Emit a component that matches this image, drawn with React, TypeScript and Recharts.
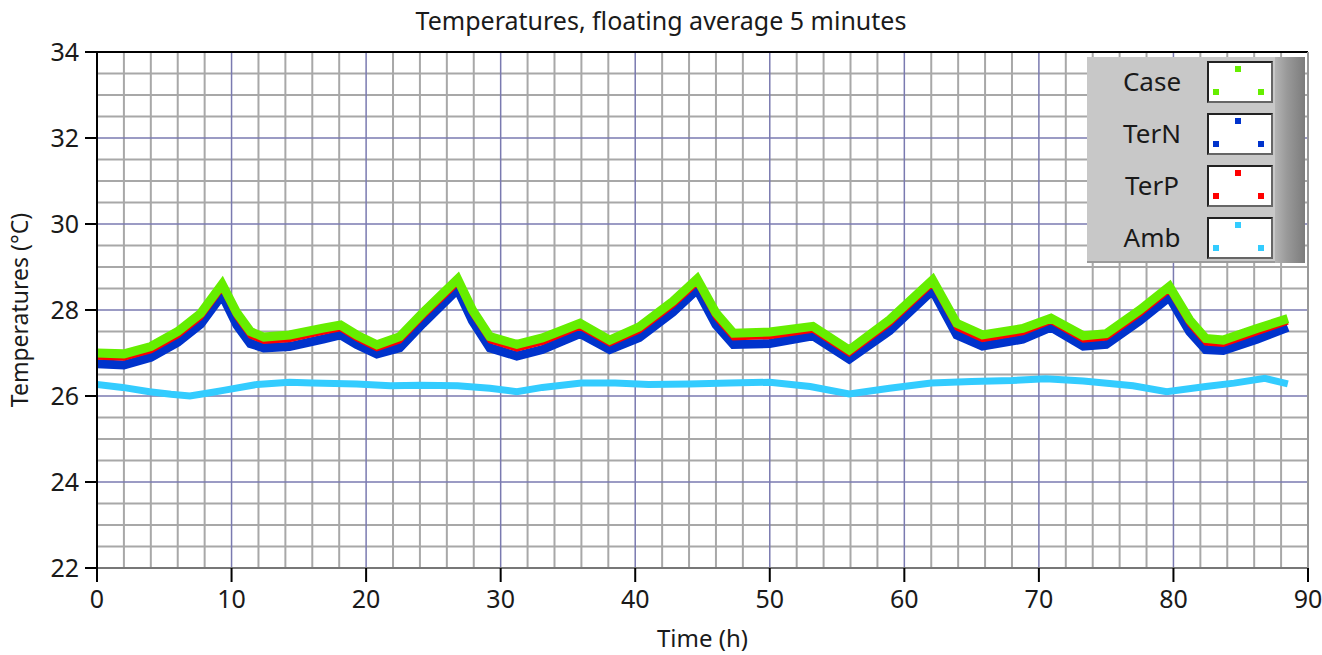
import React from 'react';
import { LineChart, Line, XAxis, YAxis, ReferenceLine, Legend } from 'recharts';

// hours of the key points for the three thermal series
const hours = [
  0, 2, 4, 6, 7.7, 9.3, 10.4, 11.4, 12.4, 14.3, 16.8, 18.1, 19.3, 20.8, 22.5,
  24.2, 26.8, 27.9, 29.2, 31.2, 33.1, 35.9, 38.1, 40.3, 42.8, 44.6, 46.0, 47.3,
  50, 53.2, 55.9, 58.9, 62.1, 63.9, 65.8, 68.8, 70.9, 73.3, 75.0, 77.5, 79.7,
  81.2, 82.4, 83.7, 86.2, 88.5,
];

const caseTemp = [
  27.0, 26.98, 27.15, 27.5, 27.92, 28.6, 27.93, 27.5, 27.37, 27.42, 27.58, 27.65, 27.42, 27.19, 27.38,
  27.93, 28.72, 28.0, 27.38, 27.2, 27.35, 27.69, 27.3, 27.61, 28.2, 28.72, 27.93, 27.46,
  27.49, 27.62, 27.07, 27.77, 28.7, 27.69, 27.42, 27.57, 27.81, 27.4, 27.45, 28.0, 28.55,
  27.77, 27.34, 27.3, 27.57, 27.8,
];

const terP = [
  26.9, 26.88, 27.05, 27.4, 27.82, 28.5, 27.82, 27.39, 27.27, 27.31, 27.48, 27.56, 27.33, 27.1, 27.28,
  27.83, 28.62, 27.9, 27.28, 27.09, 27.24, 27.6, 27.21, 27.51, 28.1, 28.62, 27.82, 27.35,
  27.38, 27.53, 26.98, 27.67, 28.6, 27.58, 27.31, 27.47, 27.73, 27.3, 27.35, 27.9, 28.45,
  27.66, 27.23, 27.2, 27.47, 27.72,
];

const terN = [
  26.75, 26.72, 26.9, 27.25, 27.67, 28.35, 27.65, 27.22, 27.12, 27.15, 27.32, 27.42, 27.2, 26.98, 27.12,
  27.68, 28.48, 27.75, 27.12, 26.93, 27.08, 27.45, 27.08, 27.36, 27.95, 28.48, 27.66, 27.2,
  27.22, 27.4, 26.86, 27.52, 28.46, 27.42, 27.16, 27.32, 27.6, 27.16, 27.2, 27.75, 28.3,
  27.5, 27.08, 27.06, 27.32, 27.6,
];

// ambient has its own sample hours
const ambHours = [
  0, 1.9, 3.9, 5.5, 6.9, 8.5, 9.4, 11.9, 14.3, 16, 19.3, 21.8, 24, 26.8, 29.2, 31.2,
  33.1, 36, 38.5, 41, 44, 47, 50, 53, 55.9, 58.9, 62, 65, 68, 70.5, 73.3, 77, 79.5,
  82.4, 84.5, 86.8, 88.5,
];
const ambTemp = [
  26.27, 26.2, 26.1, 26.04, 26.0, 26.08, 26.13, 26.27, 26.32, 26.3, 26.28, 26.24, 26.25, 26.24, 26.18, 26.1,
  26.2, 26.3, 26.3, 26.27, 26.28, 26.3, 26.32, 26.22, 26.05, 26.18, 26.3, 26.34, 26.36, 26.4, 26.35, 26.24, 26.1,
  26.22, 26.3, 26.41, 26.28,
];

const xTicks = [0, 10, 20, 30, 40, 50, 60, 70, 80, 90];
const yTicks = [22, 24, 26, 28, 30, 32, 34];
const xMajor = [10, 20, 30, 40, 50, 60, 70, 80];
const xMinor = [2, 4, 6, 8, 12, 14, 16, 18, 22, 24, 26, 28, 32, 34, 36, 38, 42, 44, 46, 48, 52, 54, 56, 58, 62, 64, 66, 68, 72, 74, 76, 78, 82, 84, 86, 88];
const yMajor = [24, 26, 28, 30, 32];
const yMinor = [22.5, 23, 23.5, 24.5, 25, 25.5, 26.5, 27, 27.5, 28.5, 29, 29.5, 30.5, 31, 31.5, 32.5, 33, 33.5];

const series = [
  { key: 'caseT', name: 'Case', color: '#66ee00' },
  { key: 'terN', name: 'TerN', color: '#0033cc' },
  { key: 'terP', name: 'TerP', color: '#ff0000' },
  { key: 'amb', name: 'Amb', color: '#33ccff' },
];

const data = hours.map((h, i) => ({ h, caseT: caseTemp[i], terP: terP[i], terN: terN[i] }));
const ambData = ambHours.map((h, i) => ({ h, amb: ambTemp[i] }));

const FONT = '"Noto Sans", "DejaVu Sans", sans-serif';
const TEXT = '#1a1a1a';
const MINOR = '#a8a8a8';
const MAJOR = '#7a7ab0';

const LegendPanel = () => (
  <div style={{ position: 'relative', width: 223, height: 206, fontFamily: FONT }}>
    <div style={{ position: 'absolute', left: 0, top: 0, width: 190, height: 204, background: '#c8c8c8', borderBottom: '2px solid #9a9a9a' }} />
    <div style={{ position: 'absolute', left: 188, top: 0, width: 30, height: 206, background: 'linear-gradient(to right, #b4b4b4, #999999 40%, #7c7c7c)' }} />
    {series.map((s, i) => (
      <div key={s.key} style={{ position: 'absolute', left: 0, top: 4 + i * 52, width: 190, height: 42 }}>
        <div style={{ position: 'absolute', left: 0, width: 130, top: 2, textAlign: 'center', fontSize: 26, color: TEXT }}>{s.name}</div>
        <div style={{ position: 'absolute', left: 120, top: 0, width: 62, height: 38, background: '#fff', border: '2px solid #222', borderRightColor: '#666', borderBottomColor: '#666' }}>
          <div style={{ position: 'absolute', left: 26, top: 3, width: 6, height: 6, background: s.color }} />
          <div style={{ position: 'absolute', left: 4, top: 26, width: 6, height: 6, background: s.color }} />
          <div style={{ position: 'absolute', left: 49, top: 26, width: 6, height: 6, background: s.color }} />
        </div>
      </div>
    ))}
  </div>
);

export default function App() {
  return (
    <div style={{ position: 'absolute', left: 0, top: 0, width: 1322, height: 655, background: '#fff' }}>
      <div style={{ position: 'absolute', left: 0, top: 3, width: 1322, textAlign: 'center', fontFamily: FONT, fontSize: 25, color: TEXT }}>
        Temperatures, floating average 5 minutes
      </div>
      <LineChart width={1322} height={655} data={data} margin={{ top: 52, right: 14, bottom: 0, left: 0 }}>
        <XAxis
          dataKey="h"
          type="number"
          domain={[0, 90]}
          ticks={xTicks}
          allowDataOverflow
          height={87}
          axisLine={false}
          tickLine={{ stroke: '#000', strokeWidth: 2 }}
          tickSize={14}
          tickMargin={8}
          tick={{ fill: TEXT, fontSize: 25, fontFamily: FONT }}
          label={{ value: 'Time (h)', position: 'insideBottom', offset: 8, fill: TEXT, fontSize: 24, fontFamily: FONT }}
        />
        <YAxis
          type="number"
          domain={[22, 34]}
          ticks={yTicks}
          width={97}
          axisLine={{ stroke: '#000', strokeWidth: 2 }}
          tickLine={{ stroke: '#000', strokeWidth: 2 }}
          tickSize={12}
          tickMargin={6}
          tick={{ fill: TEXT, fontSize: 25, fontFamily: FONT }}
          label={{ value: 'Temperatures (°C)', angle: -90, position: 'insideLeft', offset: 20, fill: TEXT, fontSize: 23, fontFamily: FONT, style: { textAnchor: 'middle' } }}
        />
        {xMinor.map((v) => (
          <ReferenceLine key={`xm${v}`} x={v} stroke={MINOR} strokeWidth={2} />
        ))}
        {yMinor.map((v) => (
          <ReferenceLine key={`ym${v}`} y={v} stroke={MINOR} strokeWidth={2} />
        ))}
        {xMajor.map((v) => (
          <ReferenceLine key={`xM${v}`} x={v} stroke={MAJOR} strokeWidth={1.5} />
        ))}
        {yMajor.map((v) => (
          <ReferenceLine key={`yM${v}`} y={v} stroke={MAJOR} strokeWidth={1.5} />
        ))}
        <ReferenceLine y={34} stroke="#000" strokeWidth={2} />
        <ReferenceLine y={22} stroke="#777" strokeWidth={2} />
        <ReferenceLine x={90} stroke="#999" strokeWidth={2} />
        <Line data={ambData} dataKey="amb" name="Amb" type="linear" stroke="#33ccff" strokeWidth={7} dot={false} isAnimationActive={false} />
        <Line dataKey="terN" name="TerN" type="linear" stroke="#0033cc" strokeWidth={9} dot={false} isAnimationActive={false} />
        <Line dataKey="terP" name="TerP" type="linear" stroke="#ff0000" strokeWidth={5} dot={false} isAnimationActive={false} />
        <Line dataKey="caseT" name="Case" type="linear" stroke="#66ee00" strokeWidth={9} dot={false} isAnimationActive={false} />
        <Legend
          layout="vertical"
          align="center"
          verticalAlign="middle"
          content={() => <LegendPanel />}
          wrapperStyle={{ position: 'absolute', left: 1087, top: 57, width: 223, height: 206 }}
        />
      </LineChart>
    </div>
  );
}
